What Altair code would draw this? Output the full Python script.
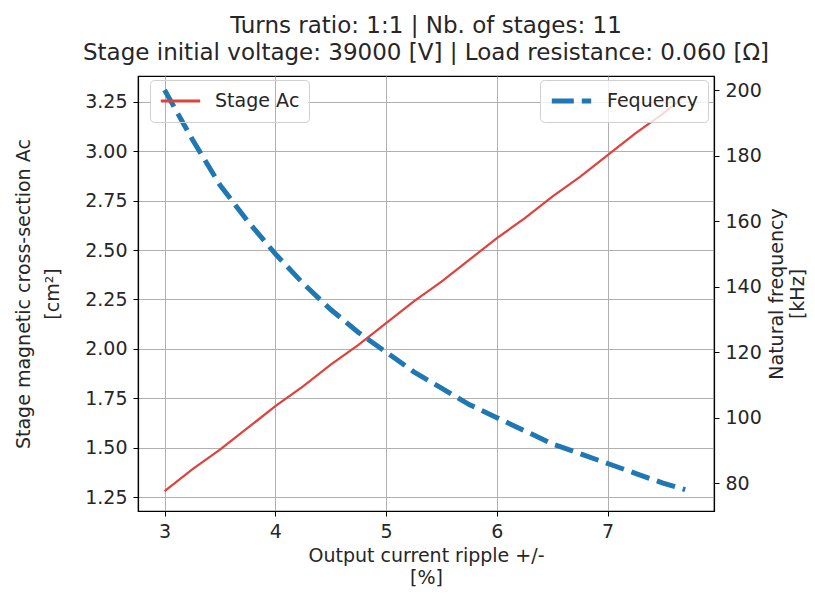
import altair as alt
import pandas as pd

ripple = [3.0, 3.25, 3.5, 3.75, 4.0, 4.25, 4.5, 4.75, 5.0, 5.25, 5.5, 5.75,
          6.0, 6.25, 6.5, 6.75, 7.0, 7.25, 7.5, 7.7]
area_ac = [1.28, 1.39, 1.49, 1.60, 1.71, 1.81, 1.92, 2.02, 2.13, 2.24, 2.34, 2.45,
           2.56, 2.66, 2.77, 2.87, 2.98, 3.09, 3.19, 3.28]
freq_khz = [200, 185, 171, 160, 150, 141, 133, 126, 120, 114, 109, 104,
            100, 96, 92, 89, 86, 83, 80, 78]

x_ticks = [3, 4, 5, 6, 7]
left_ticks = [1.25, 1.5, 1.75, 2.0, 2.25, 2.5, 2.75, 3.0, 3.25]
right_ticks = [80, 100, 120, 140, 160, 180, 200]

FONT = "DejaVu Sans"
TXT = "#262626"
RED = "#e0413c"
BLUE = "#1f77b4"

df_a = pd.DataFrame({"ripple": ripple, "ac": area_ac, "series": "Stage Aᴄ"})
df_f = pd.DataFrame({"ripple": ripple, "freq": freq_khz, "series": "Fequency"})

xenc = alt.X("ripple:Q",
             scale=alt.Scale(domain=[2.76, 7.96], nice=False, zero=False),
             axis=alt.Axis(values=x_ticks, format="d", grid=True,
                           title=["Output current ripple +/-", "[%]"],
                           titlePadding=5, titleLineHeight=22))

legend_common = dict(title=None, symbolType="stroke", symbolSize=1550,
                     clipHeight=24,
                     labelFontSize=19, labelFont=FONT, labelColor=TXT,
                     labelOffset=13, padding=9, cornerRadius=4,
                     strokeColor="#d0d0d0")

line_a = alt.Chart(df_a).mark_line(strokeWidth=2.2, color=RED).encode(
    x=xenc,
    y=alt.Y("ac:Q",
            scale=alt.Scale(domain=[1.18, 3.38], nice=False, zero=False),
            axis=alt.Axis(values=left_ticks, format=".2f", grid=True, orient="left",
                          gridDash=alt.condition("datum.value == 3.25",
                                                 alt.value([12, 158, 1000]),
                                                 alt.value([])),
                          title=["Stage magnetic cross-section Aᴄ", "[cm²]"],
                          titlePadding=22, titleLineHeight=29)),
    color=alt.Color("series:N", scale=alt.Scale(range=[RED]),
                    legend=alt.Legend(orient="none", legendX=12, legendY=4,
                                      symbolStrokeWidth=3, symbolStrokeColor=RED,
                                      fillColor="rgba(255,255,255,0)",
                                      **legend_common)),
)

line_f = alt.Chart(df_f).mark_line(strokeWidth=5, color=BLUE,
                                   strokeDash=[19, 8]).encode(
    x=xenc,
    y=alt.Y("freq:Q",
            scale=alt.Scale(domain=[71.5, 204.3], nice=False, zero=False),
            axis=alt.Axis(values=right_ticks, format="d", grid=False, orient="right",
                          title=["Natural frequency", "[kHz]"], titleAngle=270,
                          titlePadding=4, titleLineHeight=21)),
    color=alt.Color("series:N", scale=alt.Scale(range=[BLUE]),
                    legend=alt.Legend(orient="none", legendX=402, legendY=4,
                                      symbolStrokeWidth=5, symbolStrokeColor=BLUE,
                                      symbolDash=[22, 8],
                                      fillColor="rgba(255,255,255,0.8)",
                                      **legend_common)),
)

chart = alt.layer(line_a, line_f).resolve_scale(
    y="independent", color="independent"
).properties(
    width=576, height=435,
    autosize=alt.AutoSizeParams(type="none"),
    padding={"left": 130, "top": 68, "right": 93, "bottom": 77},
    title=alt.TitleParams(
        text=["Turns ratio: 1:1 | Nb. of stages: 11",
              "Stage initial voltage: 39000 [V] | Load resistance: 0.060 [Ω]"],
        fontSize=23, font=FONT, fontWeight="normal", color=TXT,
        anchor="middle", lineHeight=27, offset=11),
).configure_axis(
    labelFont=FONT, titleFont=FONT, labelFontSize=19, titleFontSize=19,
    titleFontWeight="normal", labelColor=TXT, titleColor=TXT,
    domainColor="black", domainWidth=1.2, tickColor="black", tickSize=5,
    tickWidth=1, labelPadding=6, gridColor="#b0b0b0", gridWidth=1,
).configure_view(
    stroke="black", strokeWidth=1.2
)

chart.save("out.html", embed_options={"renderer": "svg", "actions": False})
